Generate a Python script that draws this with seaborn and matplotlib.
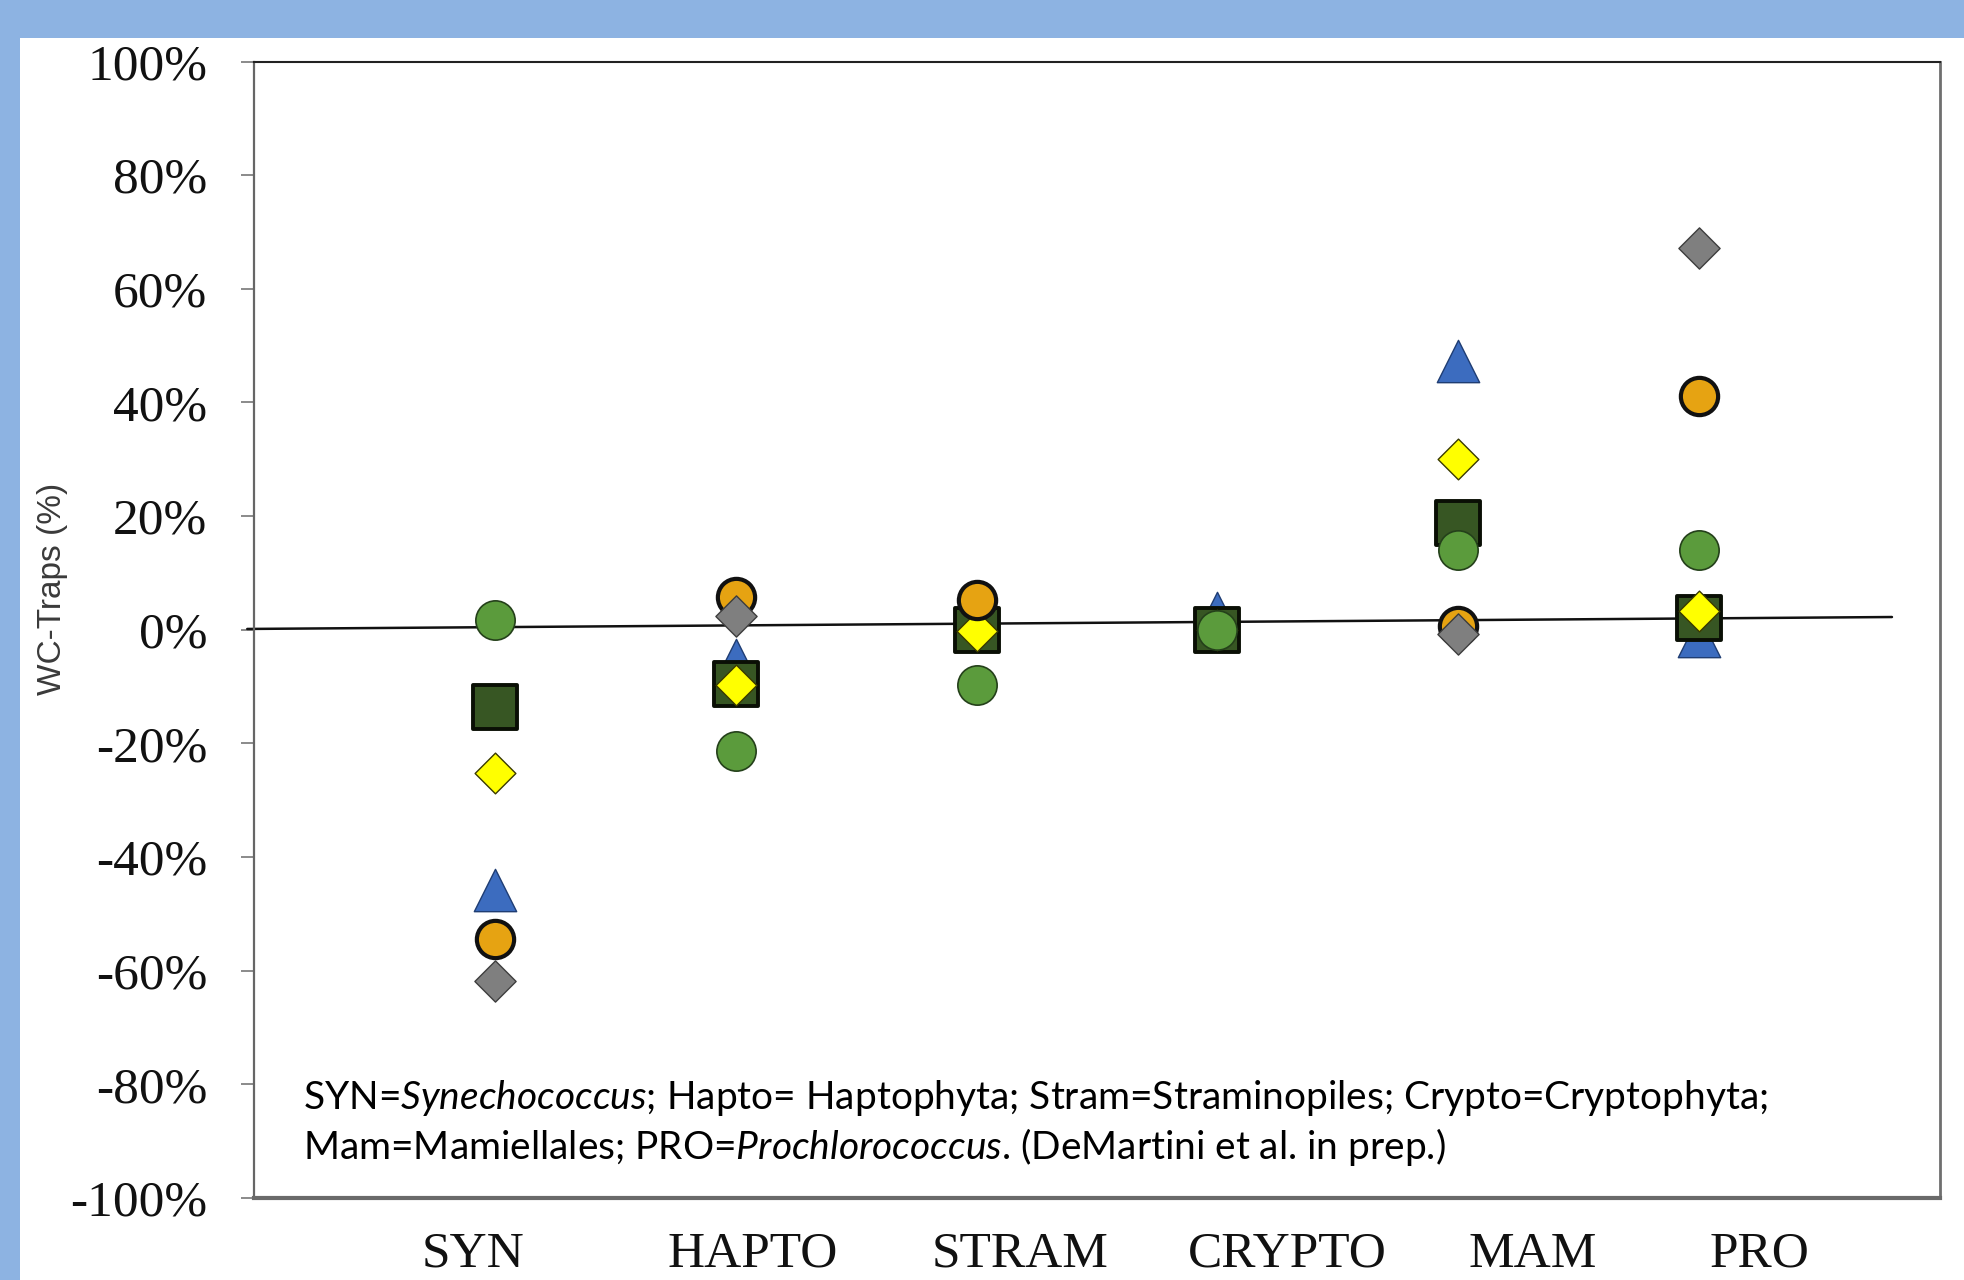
import numpy as np
import pandas as pd
import matplotlib
matplotlib.use("Agg")
import matplotlib.pyplot as plt
import seaborn as sns
from matplotlib.patches import Rectangle

# ---------------- data ----------------
categories = ["SYN", "HAPTO", "STRAM", "CRYPTO", "MAM", "PRO"]
blue_triangle = [-45.8, -5.3, np.nan, 3.0, 47.3, -1.1]
darkgreen_square = [-13.6, -9.5, 0.0, -0.1, 18.7, 2.0]
yellow_diamond = [-25.2, -9.7, -0.3, 0.0, 30.0, 3.3]
green_circle = [1.7, -21.3, -9.7, 0.0, 14.0, 14.0]
orange_circle = [-54.5, 5.7, 5.2, np.nan, 0.7, 41.1]
grey_diamond = [-61.8, 2.4, np.nan, np.nan, -0.8, 67.2]

y_ticks = [100, 80, 60, 40, 20, 0, -20, -40, -60, -80, -100]
y_tick_labels = [f"{v}%" for v in y_ticks]
# x tick labels sit slightly off the marker columns in the original
label_positions = [-0.09, 1.07, 2.18, 3.29, 4.31, 5.25]

note_line1 = r"SYN=$\mathit{Synechococcus}$; Hapto= Haptophyta; Stram=Straminopiles; Crypto=Cryptophyta;"
note_line2 = r"Mam=Mamiellales; PRO=$\mathit{Prochlorococcus}$. (DeMartini et al. in prep.)"

# ---------------- style ----------------
sns.set_style("white")
plt.rcParams["font.family"] = ["Liberation Serif", "DejaVu Serif"]
plt.rcParams["mathtext.fontset"] = "custom"
plt.rcParams["mathtext.rm"] = "Lato"
plt.rcParams["mathtext.it"] = "Lato:italic"

W, H = 1965, 1280
fig = plt.figure(figsize=(W / 100, H / 100), dpi=100)
fig.patch.set_facecolor("#8db3e2")
fig.add_artist(Rectangle((20 / W, 0), 1, (H - 38) / H, transform=fig.transFigure,
                         facecolor="white", edgecolor="none", zorder=0))

ax = fig.add_axes([254 / W, 1 - 1198 / H, (1940 - 254) / W, (1198 - 61.5) / H])
ax.set_facecolor("white")

x_idx = np.arange(len(categories))
series = [
    ("blue_triangle", blue_triangle, "^", "#3c6cbf", "#1f3d73", 1.0, 930),
    ("darkgreen_square", darkgreen_square, "s", "#375623", "#0a0f05", 2.8, 960),
    ("yellow_diamond", yellow_diamond, "D", "#ffff00", "#3a3a00", 1.0, 430),
    ("green_circle", green_circle, "o", "#5b9b3c", "#24401a", 1.2, 800),
    ("orange_circle", orange_circle, "o", "#e6a312", "#111111", 3.0, 720),
    ("grey_diamond", grey_diamond, "D", "#7f7f7f", "#3d3d3d", 1.0, 440),
]

# zero reference line (slightly tilted as in the original)
ax.plot([-0.004, 0.9715], [0.5007, 0.5112], transform=ax.transAxes,
        color="#111111", lw=1.8, clip_on=False, zorder=2)

for i, (name, vals, mk, fc, ec, lw, s) in enumerate(series):
    df = pd.DataFrame({"x": x_idx, "y": vals}).dropna()
    sns.scatterplot(data=df, x="x", y="y", marker=mk, color=fc, edgecolor=ec,
                    linewidth=lw, s=s, ax=ax, zorder=3 + i, legend=False)

ax.set_xlim(-1, 6)
ax.set_ylim(-100, 100)
ax.set_xlabel("")
ax.set_ylabel("")

ax.set_yticks(y_ticks)
ax.set_yticklabels(y_tick_labels, fontsize=37, family="Liberation Serif", color="#111111")
ax.tick_params(axis="y", which="major", left=True, length=9.5, width=1.4,
               color="#8a8a8a", pad=24)
ax.set_xticks(label_positions)
ax.set_xticklabels(categories, fontsize=37, family="Liberation Serif", color="#111111")
ax.tick_params(axis="x", which="major", bottom=False, length=0, pad=24)

for side, col, lw in [("top", "#222222", 1.5), ("left", "#666666", 1.6),
                      ("right", "#6f6f6f", 2.0), ("bottom", "#6a6a6a", 3.0)]:
    ax.spines[side].set_visible(True)
    ax.spines[side].set_color(col)
    ax.spines[side].set_linewidth(lw)

fig.text(53 / W, 1 - 589 / H, "WC-Traps (%)", rotation=90, ha="center", va="center",
         fontsize=24, family="Liberation Sans", color="#3a3a3a")

fs0 = 26
t1 = fig.text(303 / W, 1 - 1109 / H, note_line1, ha="left", va="baseline",
              fontsize=fs0, family="Lato", color="black")
t2 = fig.text(303 / W, 1 - 1159 / H, note_line2, ha="left", va="baseline",
              fontsize=fs0, family="Lato", color="black")
fig.canvas.draw()
w1 = t1.get_window_extent(fig.canvas.get_renderer()).width
scale = 1467 / w1
t1.set_fontsize(fs0 * scale)
t2.set_fontsize(fs0 * scale)

fig.savefig("out.png", dpi=100, facecolor=fig.get_facecolor())
